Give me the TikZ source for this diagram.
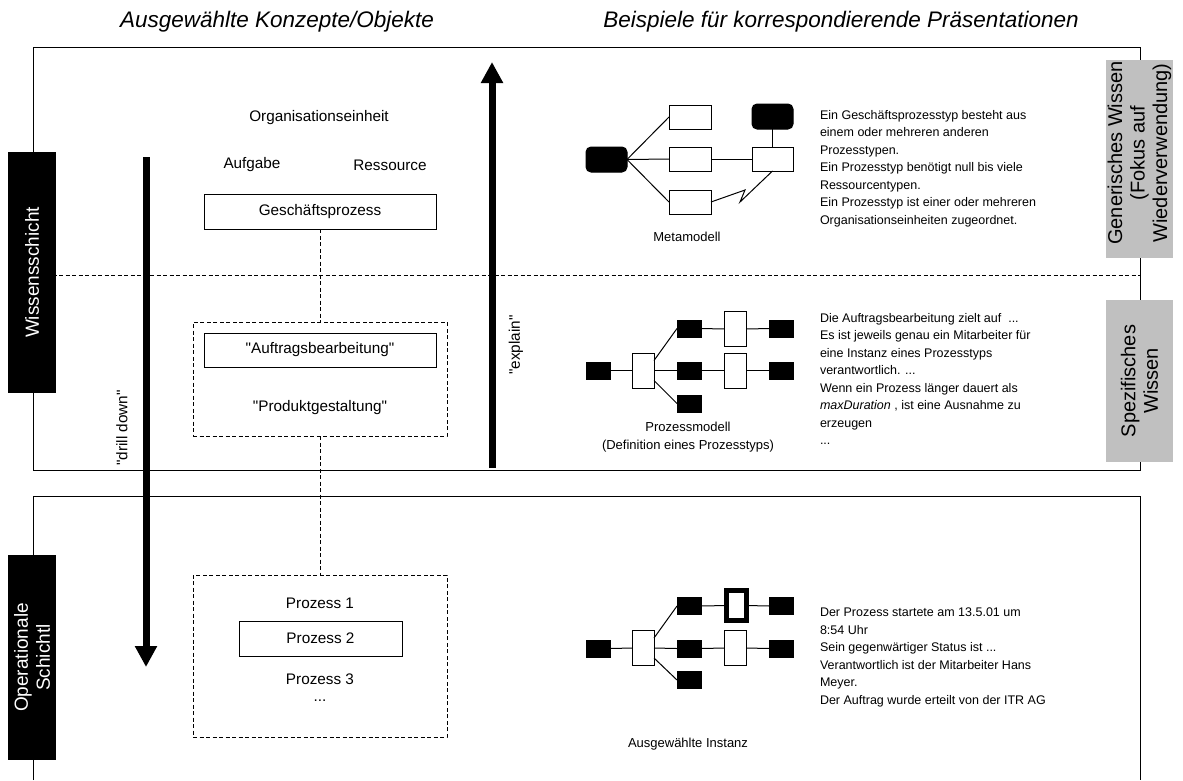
\documentclass[tikz,border=0pt]{standalone}
\usepackage{fontspec}
\setmainfont{Liberation Sans}[Ligatures=TeXOff]
\usetikzlibrary{arrows.meta}
\definecolor{silver}{RGB}{192,192,192}
\begin{document}
\begin{tikzpicture}[x=1pt,y=-1pt,
  every node/.style={inner sep=0pt,outer sep=0pt},
  ttl/.style={font=\fontsize{22.5}{26}\itshape\selectfont},
  lbl/.style={font=\fontsize{15.3}{18}\selectfont},
  sml/.style={font=\fontsize{13}{18}\selectfont},
  txt/.style={font=\fontsize{12.5}{17.5}\selectfont,align=left,anchor=north west},
  frame/.style={line width=1pt},
  dsh/.style={line width=0.9pt,dash pattern=on 4pt off 2.5pt},
  wbox/.style={draw,line width=1pt,fill=white},
  bbox/.style={draw,line width=1pt,fill=black},
  conn/.style={line width=1pt},
  layer/.style={fill=black,text=white,rotate=90,align=center,font=\fontsize{19}{22}\selectfont},
  know/.style={fill=silver,rotate=90,align=center,font=\fontsize{20}{22.5}\selectfont},
  bigarrow/.style={line width=7pt,-{Triangle[width=21pt,length=21pt]}}
]
\useasboundingbox (0,0) rectangle (1183,780);

% frames
\draw[frame] (33,470) -- (33,47) -- (1140,47) -- (1140,470) -- cycle;
\draw[frame] (33,780) -- (33,496) -- (1140,496) -- (1140,780);
\draw[dsh] (33,275) -- (1140,275);

% titles
\node[ttl] (t1) at (277,22) {Ausgewählte Konzepte/Objekte};
\node[ttl] (t2) at (841,22) {Beispiele für korrespondierende Präsentationen};

% layer labels
\node[layer,minimum width=241pt,minimum height=48pt] (ws) at (32,272.5) {Wissensschicht};
\node[layer,minimum width=205pt,minimum height=48pt] (os) at (32,657.5) {Operationale\\Schichtl};
\node[fill=silver,minimum width=67pt,minimum height=198pt] (gwb) at (1139.5,159) {};
\node[know] (gw) at (1139.5,153) {Generisches Wissen\\(Fokus auf\\Wiederverwendung)};
\node[know,minimum width=162pt,minimum height=67pt] (sw) at (1139.5,381) {Spezifisches\\Wissen};

% left column concepts
\node[lbl] (org) at (319,118) {Organisationseinheit};
\node[lbl] (auf) at (252,165) {Aufgabe};
\node[lbl] (res) at (390,165) {Ressource};
\node[wbox,lbl,minimum width=232pt,minimum height=35pt] (gp) at (320,211.5) {Geschäftsprozess};

\node[draw,dsh,minimum width=254pt,minimum height=114pt] (db1) at (320,379) {};
\node[wbox,lbl,minimum width=232pt,minimum height=34pt] (ab) at (320,350) {"Auftragsbearbeitung"};
\node[lbl] (pg) at (320,408) {"Produktgestaltung"};

\node[draw,dsh,minimum width=254pt,minimum height=162pt] (db2) at (320,656) {};
\node[lbl] (p1) at (320,603) {Prozess 1};
\node[wbox,lbl,minimum width=163pt,minimum height=35pt] (p2) at (320.5,638.5) {Prozess 2};
\node[lbl] (p3) at (320,679) {Prozess 3};
\node[lbl] (pd) at (320,701) {...};

\draw[dsh] (gp.south) -- (db1.north);
\draw[dsh] (db1.south) -- (db2.north);

% big arrows
\coordinate (dd1) at (146,157);
\coordinate (dd2) at (146,667);
\draw[bigarrow] (dd1) -- (dd2);
\node[lbl,rotate=90] (ddl) at (122,428) {"drill down"};
\coordinate (ex1) at (492,468);
\coordinate (ex2) at (492,62);
\draw[bigarrow] (ex1) -- (ex2);
\node[lbl,rotate=90] (exl) at (516,345) {"explain"};

% metamodel
\node[bbox,rounded corners=5pt,minimum width=41pt,minimum height=25pt] (mL) at (606.5,159.5) {};
\node[wbox,minimum width=42pt,minimum height=24pt] (mT) at (690,117) {};
\node[wbox,minimum width=42pt,minimum height=24pt] (mM) at (690,159) {};
\node[wbox,minimum width=42pt,minimum height=24pt] (mB) at (690,202) {};
\node[wbox,minimum width=41pt,minimum height=24pt] (mR) at (772.5,159) {};
\node[bbox,rounded corners=5pt,minimum width=41pt,minimum height=25pt] (mRT) at (772.5,116.5) {};
\draw[conn] (mL.east) -- (mT.west);
\draw[conn] (mL.east) -- (mM.west);
\draw[conn] (mL.east) -- (mB.west);
\draw[conn] (mM.east) -- (mR.west);
\draw[conn] (mR.north) -- (mRT.south);
\coordinate (z1) at (745,190);
\coordinate (z2) at (740,202);
\draw[conn] (mB.east) -- (z1) -- (z2) -- (mR.south);
\node[sml] (mlab) at (687,237) {Metamodell};

% process model
\begin{scope}[bk/.style={bbox,minimum width=24pt,minimum height=17pt},
              wt/.style={wbox,minimum width=22pt,minimum height=35pt}]
\node[bk] (pL) at (598.5,370.5) {};
\node[wt] (pW) at (643,370.5) {};
\node[bk] (pBT) at (689,328.5) {};
\node[bk] (pBM) at (689,370.5) {};
\node[bk] (pBB) at (689,403.5) {};
\node[wt] (pWT) at (735.5,329) {};
\node[wt] (pWM) at (735.5,370.5) {};
\node[bk] (pRT) at (781.5,328.5) {};
\node[bk] (pRM) at (781.5,370.5) {};
\draw[conn] (pL.east) -- (pW.west);
\draw[conn] (pW.east) -- (pBM.west);
\draw[conn] ([yshift=10pt]pW.east) -- (pBT.west);
\draw[conn] ([yshift=-10pt]pW.east) -- (pBB.west);
\draw[conn] (pBT.east) -- (pWT.west);
\draw[conn] (pWT.east) -- (pRT.west);
\draw[conn] (pBM.east) -- (pWM.west);
\draw[conn] (pWM.east) -- (pRM.west);
\node[sml,align=center] (plab) at (688,437) {Prozessmodell\\(Definition eines Prozesstyps)};

% instance
\node[bk] (iL) at (598.5,648.5) {};
\node[wt] (iW) at (643,648) {};
\node[bk] (iBT) at (689,606) {};
\node[bk] (iBM) at (689,648.5) {};
\node[bk] (iBB) at (689,680) {};
\node[draw,fill=white,line width=5pt,minimum width=20pt,minimum height=30pt] (iWT) at (736.5,605.5) {};
\node[wt] (iWM) at (735.5,648) {};
\node[bk] (iRT) at (781.5,606) {};
\node[bk] (iRM) at (781.5,648.5) {};
\draw[conn] (iL.east) -- (iW.west);
\draw[conn] (iW.east) -- (iBM.west);
\draw[conn] ([yshift=10pt]iW.east) -- (iBT.west);
\draw[conn] ([yshift=-10pt]iW.east) -- (iBB.west);
\draw[conn] (iBT.east) -- (iWT.west);
\draw[conn] (iWT.east) -- (iRT.west);
\draw[conn] (iBM.east) -- (iWM.west);
\draw[conn] (iWM.east) -- (iRM.west);
\node[sml] (ilab) at (688,744) {Ausgewählte Instanz};
\end{scope}

% texts
\node[txt] (mtxt) at (820,110) {Ein Geschäftsprozesstyp besteht aus\\einem oder mehreren anderen\\Prozesstypen.\\Ein Prozesstyp benötigt null bis viele\\Ressourcentypen.\\Ein Prozesstyp ist einer oder mehreren\\Organisationseinheiten zugeordnet.};
\node[txt] (ptxt) at (820,313) {Die Auftragsbearbeitung zielt auf \ ...\\Es ist jeweils genau ein Mitarbeiter für\\eine Instanz eines Prozesstyps\\verantwortlich. ...\\Wenn ein Prozess länger dauert als\\\textit{maxDuration} , ist eine Ausnahme zu\\erzeugen\\...};
\node[txt] (itxt) at (820,608) {Der Prozess startete am 13.5.01 um\\8:54 Uhr\\Sein gegenwärtiger Status ist ...\\Verantwortlich ist der Mitarbeiter Hans\\Meyer.\\Der Auftrag wurde erteilt von der ITR AG};
\end{tikzpicture}
\end{document}
